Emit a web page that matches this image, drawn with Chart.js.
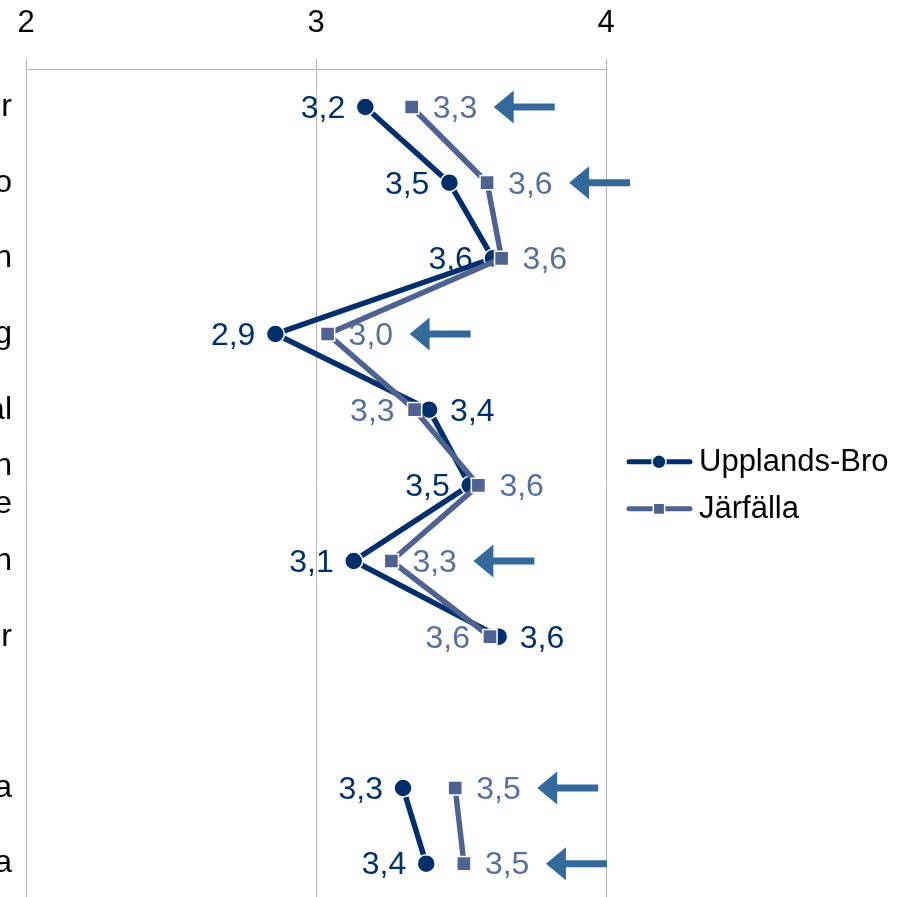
<!DOCTYPE html>
<html>
<head>
<meta charset="utf-8">
<script src="https://cdn.jsdelivr.net/npm/chart.js@4.4.1/dist/chart.umd.min.js"></script>
<style>
    body { margin: 0; background: #fff; overflow: hidden; }
    #wrap { width: 910px; height: 897px; overflow: hidden; }
</style>
</head>
<body>
<div id="wrap"><canvas id="profileChart" width="910" height="913"></canvas></div>
<script>
// Category labels (only the visible ends of the labels are shown in the picture)
const categories = ['r', 'o', 'n', 'g', 'al', ['n', 'e'], 'n', 'r', '', 'a', 'a'];

// Series values
const upplandsBro = [3.17, 3.46, 3.61, 2.86, 3.39, 3.53, 3.13, 3.63, null, 3.30, 3.38];
const jarfalla = [3.33, 3.59, 3.64, 3.04, 3.34, 3.56, 3.26, 3.60, null, 3.48, 3.51];

// Rows marked with an arrow next to the Järfälla value
const arrowRows = [0, 1, 3, 6, 9, 10];

// Value axis ticks
const xTicks = [2, 3, 4];

const FONT = "'Liberation Sans', Arial, sans-serif";
const BRO_COLOR = '#00306b';
const JAR_COLOR = '#4e6391';
const JAR_TEXT = '#56709e';
const ARROW_COLOR = '#33699b';

function fmt(v) {
    return v.toFixed(1).replace('.', ',');
}

// Value labels next to each point
const valueLabels = {
    id: 'valueLabels',
    afterDatasetsDraw(chart) {
        const ctx = chart.ctx;
        ctx.save();
        ctx.font = '32px ' + FONT;
        ctx.textBaseline = 'middle';
        chart.data.datasets.forEach((ds, i) => {
            const meta = chart.getDatasetMeta(i);
            const other = chart.data.datasets[1 - i].data;
            ds.data.forEach((v, j) => {
                if (v === null) return;
                const pt = meta.data[j];
                // put the label on the side away from the other series
                let left = ds.isBro ? v <= other[j] : v < other[j];
                ctx.fillStyle = ds.textColor;
                ctx.textAlign = left ? 'right' : 'left';
                ctx.fillText(fmt(v), pt.x + (left ? -20 : 21), pt.y + 2);
            });
        });
        ctx.restore();
    }
};

// Arrows pointing at the marked Järfälla values
const arrows = {
    id: 'arrows',
    afterDatasetsDraw(chart) {
        const ctx = chart.ctx;
        const idx = chart.data.datasets.findIndex(d => !d.isBro);
        const meta = chart.getDatasetMeta(idx);
        ctx.save();
        ctx.fillStyle = ARROW_COLOR;
        arrowRows.forEach(j => {
            const pt = meta.data[j];
            const tip = pt.x + 82;
            const y = pt.y;
            ctx.beginPath();
            ctx.moveTo(tip, y);
            ctx.lineTo(tip + 20, y - 16.5);
            ctx.lineTo(tip + 20, y - 3.5);
            ctx.lineTo(tip + 61, y - 3.5);
            ctx.lineTo(tip + 61, y + 3.5);
            ctx.lineTo(tip + 20, y + 3.5);
            ctx.lineTo(tip + 20, y + 16.5);
            ctx.closePath();
            ctx.fill();
        });
        ctx.restore();
    }
};

// Legend with line + marker, drawn to the right of the plot
const sideLegend = {
    id: 'sideLegend',
    afterDraw(chart) {
        const ctx = chart.ctx;
        const area = chart.chartArea;
        const x0 = area.right + 21;
        const mid = (area.top + area.bottom) / 2;
        const items = [
            { label: 'Upplands-Bro', color: BRO_COLOR, style: 'circle', r: 7, y: mid - 23.5 },
            { label: 'Järfälla', color: JAR_COLOR, style: 'rect', r: 8, y: mid + 23.5 }
        ];
        ctx.save();
        items.forEach(it => {
            ctx.strokeStyle = it.color;
            ctx.lineWidth = 5;
            ctx.lineCap = 'round';
            ctx.beginPath();
            ctx.moveTo(x0 + 2, it.y);
            ctx.lineTo(x0 + 63, it.y);
            ctx.stroke();
            ctx.fillStyle = it.color;
            ctx.strokeStyle = '#fff';
            ctx.lineWidth = 1.5;
            Chart.helpers.drawPoint(ctx, { pointStyle: it.style, radius: it.r, borderWidth: 1.5 }, x0 + 32, it.y);
            ctx.fillStyle = '#000';
            ctx.font = '31px ' + FONT;
            ctx.textAlign = 'left';
            ctx.textBaseline = 'middle';
            ctx.fillText(it.label, x0 + 72, it.y + 1);
        });
        ctx.restore();
    }
};

const ctx = document.getElementById('profileChart').getContext('2d');
new Chart(ctx, {
    type: 'line',
    data: {
        labels: categories,
        datasets: [
            {
                label: 'Upplands-Bro',
                isBro: true,
                textColor: BRO_COLOR,
                data: upplandsBro,
                borderColor: BRO_COLOR,
                backgroundColor: BRO_COLOR,
                borderWidth: 5.5,
                pointStyle: 'circle',
                pointRadius: 9,
                pointBorderColor: '#fff',
                pointBorderWidth: 1.5,
                spanGaps: false,
                order: 1
            },
            {
                label: 'Järfälla',
                isBro: false,
                textColor: JAR_TEXT,
                data: jarfalla,
                borderColor: JAR_COLOR,
                backgroundColor: JAR_COLOR,
                borderWidth: 5.5,
                pointStyle: 'rect',
                pointRadius: 10,
                pointBorderColor: '#fff',
                pointBorderWidth: 1.5,
                spanGaps: false,
                order: 0
            }
        ]
    },
    options: {
        indexAxis: 'y',
        responsive: false,
        animation: false,
        devicePixelRatio: 1,
        layout: { padding: { top: -12, right: 304, bottom: -7, left: 0 } },
        plugins: {
            legend: { display: false },
            tooltip: { enabled: false }
        },
        scales: {
            x: {
                type: 'linear',
                position: 'top',
                min: 2,
                max: 4,
                afterBuildTicks: scale => { scale.ticks = xTicks.map(v => ({ value: v })); },
                grid: { color: '#b3b3b3', lineWidth: 1, tickLength: 10, drawTicks: true },
                border: { color: '#b3b3b3', width: 1 },
                ticks: { color: '#000', padding: 17, font: { family: FONT, size: 31 } }
            },
            y: {
                type: 'category',
                offset: true,
                grid: { display: false, drawTicks: false, offset: true },
                border: { display: true, color: '#b3b3b3', width: 1 },
                afterFit: scale => {
                    scale.width = 26;
                    scale.paddingTop = 0;
                    scale.paddingBottom = 0;
                },
                ticks: { color: '#000', padding: 14, autoSkip: false, font: { family: FONT, size: 32, lineHeight: 1.2 } }
            }
        }
    },
    plugins: [valueLabels, arrows, sideLegend]
});
</script>
</body>
</html>
